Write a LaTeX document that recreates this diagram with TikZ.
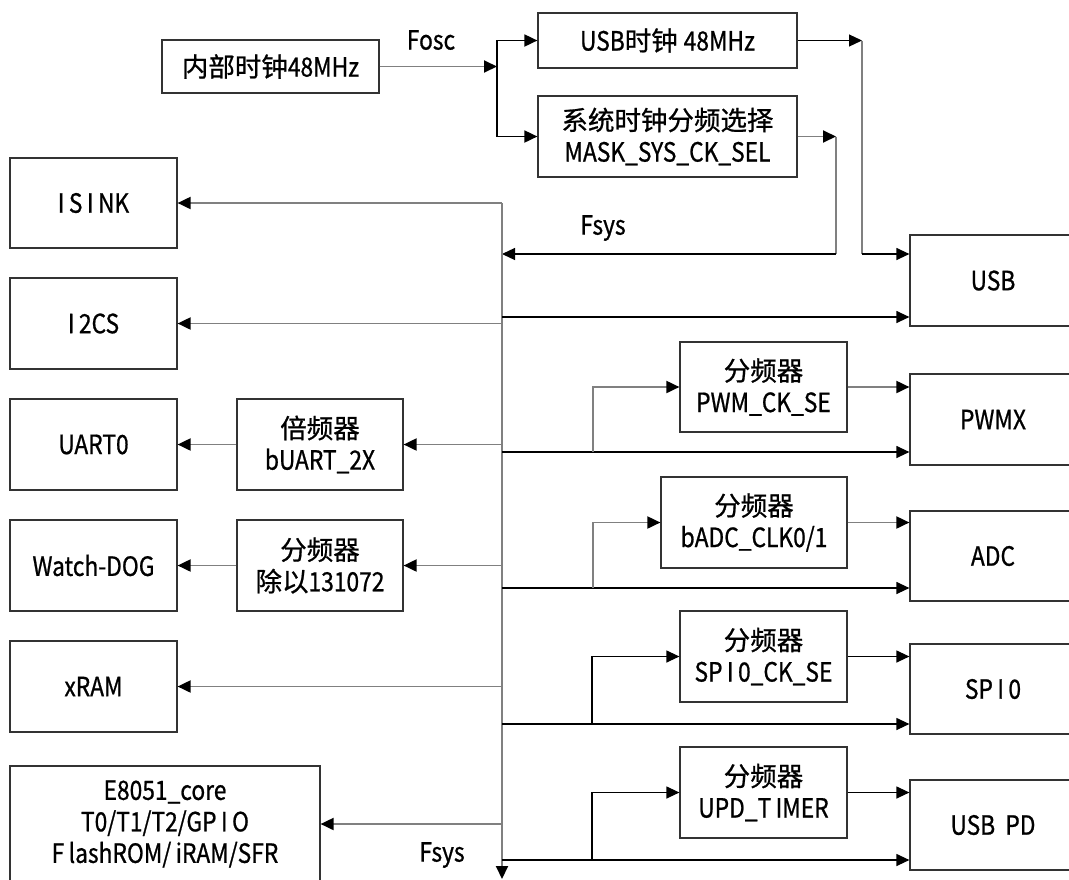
\documentclass[tikz,border=0pt]{standalone}
\usepackage{fontspec}
\setmainfont{Noto Sans CJK SC}[FakeBold=0.8]
\newfontfamily\lt[FakeStretch=0.86,FakeBold=0.8]{Noto Sans CJK SC}
\usetikzlibrary{arrows.meta}
\begin{document}
\begin{tikzpicture}[x=1pt,y=-1pt,
  box/.style={draw=black!80, line width=1.2pt, align=center, inner sep=0pt,
    font=\fontsize{26.5}{31.5}\selectfont},
  lbl/.style={font=\fontsize{26.5}{31}\selectfont\lt, inner sep=0pt},
  gl/.style={draw=black!50, line width=1.9pt},
  bl/.style={draw=black, line width=1.2pt},
  tip/.style={-{Triangle[length=13pt,width=12pt,color=black]}}
]
\useasboundingbox (0,0) rectangle (1069,879);
\fill[white] (0,0) rectangle (1069,879);

% top clock boxes
\node[box, minimum width=217pt, minimum height=53pt] (osc) at (270.5,66.5) {内部时钟{\lt 48MHz}};
\node[box, minimum width=259pt, minimum height=55pt] (usbclk) at (667.5,40.5) {{\lt USB}时钟 {\lt 48MHz}};
\node[box, minimum width=259pt, minimum height=81pt] (sysclk) at (667.5,136.5) {系统时钟分频选择\\{\lt MASK\_SYS\_CK\_SEL}};

% left boxes
\node[box, minimum width=167pt, minimum height=90pt] (isink) at (93.5,203) {\lt I\,S\,I\,NK};
\node[box, minimum width=167pt, minimum height=91pt] (i2cs) at (93.5,323.5) {\lt I\,2CS};
\node[box, minimum width=167pt, minimum height=91pt] (uart) at (93.5,444.5) {\lt UART0};
\node[box, minimum width=166pt, minimum height=91pt] (mul) at (320,444.5) {倍频器\\{\lt bUART\_2X}};
\node[box, minimum width=167pt, minimum height=91pt] (wdg) at (93.5,565.5) {\lt Watch-DOG};
\node[box, minimum width=166pt, minimum height=91pt] (div) at (320,565.5) {分频器\\除以{\lt 131072}};
\node[box, minimum width=167pt, minimum height=91pt] (xram) at (93.5,686.5) {\lt xRAM};
\node[box, minimum width=310pt, minimum height=116pt] (core) at (165,824) {\lt E8051\_core\\\lt T0/T1/T2/GP\,I\,O\\\lt F\,lashROM/\,iRAM/SFR};

% right boxes
\node[box, minimum width=166pt, minimum height=91pt] (usb) at (993,280.5) {\lt USB};
\node[box, minimum width=167pt, minimum height=90pt] (pwmdiv) at (763.5,387) {分频器\\{\lt PWM\_CK\_SE}};
\node[box, minimum width=166pt, minimum height=91pt] (pwmx) at (993,419.5) {\lt PWMX};
\node[box, minimum width=186pt, minimum height=91pt] (adcdiv) at (754,522.5) {分频器\\{\lt bADC\_CLK0/1}};
\node[box, minimum width=166pt, minimum height=90pt] (adc) at (993,556) {\lt ADC};
\node[box, minimum width=167pt, minimum height=91pt] (spidiv) at (763.5,656.5) {分频器\\{\lt SP\,I\,0\_CK\_SE}};
\node[box, minimum width=166pt, minimum height=90pt] (spi) at (993,689) {\lt SP\,I\,0};
\node[box, minimum width=167pt, minimum height=91pt] (upddiv) at (763.5,792.5) {分频器\\{\lt UPD\_T\,IMER}};
\node[box, minimum width=166pt, minimum height=90pt] (usbpd) at (993,825) {\lt USB\ \ PD};

% labels
\node[lbl] (fosc) at (431,40) {Fosc};
\node[lbl] (fsys1) at (603,228) {Fsys};
\node[lbl] (fsys2) at (442,855) {Fsys};

% coordinates
\coordinate (j1) at (497,66.5);
\coordinate (u1) at (862,40.5);
\coordinate (u2) at (862,254);
\coordinate (s1) at (836,136.5);
\coordinate (s2) at (836,254);
\coordinate (btop) at (502,203);
\coordinate (bbot) at (502,879);
\coordinate (r1) at (502,317);
\coordinate (r2) at (502,452);
\coordinate (b2) at (593,452);
\coordinate (r3) at (502,588);
\coordinate (b3) at (593,588);
\coordinate (r4) at (502,724);
\coordinate (b4) at (592,724);
\coordinate (r5) at (502,860);
\coordinate (b5) at (592,860);

% oscillator distribution
\draw[gl,tip] (osc.east) -- (j1);
\draw[bl,line width=1.8pt,tip] (j1) |- (usbclk.west);
\draw[bl,line width=1.8pt,tip] (j1) |- (sysclk.west);
\draw[bl,tip] (usbclk.east) -- (u1);
\draw[gl] (u1) -- (u2);
\draw[bl,tip] (u2) -- (u2 -| usb.west);
\draw[gl,tip] (sysclk.east) -- (s1);
\draw[gl] (s1) -- (s2);
\draw[bl,tip] (s2) -- (s2 -| btop);

% bus
\draw[gl,tip] (btop) -- (bbot);

% left side
\draw[gl,tip] (isink.east -| btop) -- (isink.east);
\draw[gl,tip] (i2cs.east -| btop) -- (i2cs.east);
\draw[gl,tip] (mul.east -| btop) -- (mul.east);
\draw[gl,tip] (mul.west) -- (uart.east);
\draw[gl,tip] (div.east -| btop) -- (div.east);
\draw[gl,tip] (div.west) -- (wdg.east);
\draw[gl,tip] (xram.east -| btop) -- (xram.east);
\draw[gl,tip] (core.east -| btop) -- (core.east);

% right side
\draw[bl,tip] (r1) -- (r1 -| usb.west);
\draw[bl,tip] (r2) -- (r2 -| pwmx.west);
\draw[gl,tip] (b2) |- (pwmdiv.west);
\draw[gl,tip] (pwmdiv.east) -- (pwmdiv.east -| pwmx.west);
\draw[bl,tip] (r3) -- (r3 -| adc.west);
\draw[gl,tip] (b3) |- (adcdiv.west);
\draw[gl,tip] (adcdiv.east) -- (adcdiv.east -| adc.west);
\draw[bl,tip] (r4) -- (r4 -| spi.west);
\draw[bl,tip] (b4) |- (spidiv.west);
\draw[bl,tip] (spidiv.east) -- (spidiv.east -| spi.west);
\draw[bl,tip] (r5) -- (r5 -| usbpd.west);
\draw[bl,tip] (b5) |- (upddiv.west);
\draw[bl,tip] (upddiv.east) -- (upddiv.east -| usbpd.west);
\end{tikzpicture}
\end{document}
